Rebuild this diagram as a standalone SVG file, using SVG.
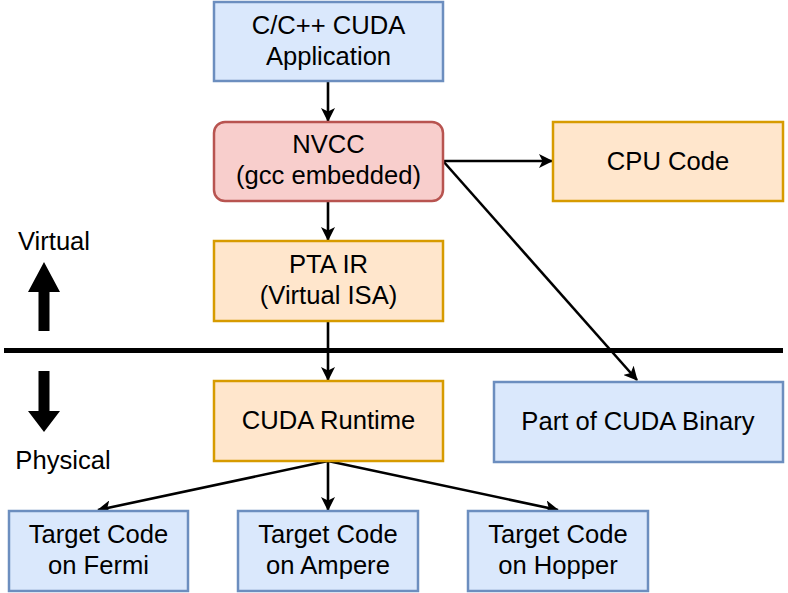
<svg xmlns="http://www.w3.org/2000/svg" width="788" height="593" viewBox="0 0 788 593">
<style>
text{font-family:"Liberation Sans",Arial,Helvetica,sans-serif;font-size:25.6px;fill:#000;text-anchor:middle}
.blue{fill:#dae8fc;stroke:#6c8ebf;stroke-width:2.5}
.red{fill:#f8cecc;stroke:#b85450;stroke-width:2.5}
.orange{fill:#ffe6cc;stroke:#d79b00;stroke-width:2.5}
.edge{stroke:#000;stroke-width:2.6;fill:none;marker-end:url(#ah)}
</style>
<defs>
<marker id="ah" viewBox="0 0 14 14" refX="13" refY="7" markerWidth="14" markerHeight="14" markerUnits="userSpaceOnUse" orient="auto">
<path d="M0,0 L14,7 L0,14 L3.5,7 Z" fill="#000"/>
</marker>
</defs>
<rect width="788" height="593" fill="#fff"/>
<g id="divider">
<line x1="4" y1="350.5" x2="783" y2="350.5" stroke="#000" stroke-width="5"/>
<path d="M44,262 L60,292 L49.5,292 L49.5,331 L38.5,331 L38.5,292 L28,292 Z" fill="#000"/>
<path d="M44,432 L60,411 L49.5,411 L49.5,371 L38.5,371 L38.5,411 L28,411 Z" fill="#000"/>
<text x="54" y="250">Virtual</text>
<text x="63" y="469">Physical</text>
</g>
<g id="connectors">
<line class="edge" x1="328" y1="81" x2="328" y2="121"/>
<line class="edge" x1="328" y1="202" x2="328" y2="240"/>
<line class="edge" x1="328" y1="321" x2="328" y2="380"/>
<line class="edge" x1="443" y1="161" x2="552" y2="161"/>
<line class="edge" x1="443" y1="161" x2="637" y2="380"/>
<line class="edge" x1="328" y1="461" x2="98" y2="510"/>
<line class="edge" x1="328" y1="461" x2="328" y2="510"/>
<line class="edge" x1="328" y1="461" x2="558" y2="510"/>
</g>
<g id="app">
<rect class="blue" x="214" y="2" width="229" height="79"/>
<text x="328.5" y="34">C/C++ CUDA</text>
<text x="328.5" y="65">Application</text>
</g>
<g id="nvcc">
<rect class="red" x="214" y="122" width="229" height="79" rx="11"/>
<text x="328.5" y="153">NVCC</text>
<text x="328.5" y="184">(gcc embedded)</text>
</g>
<g id="cpu">
<rect class="orange" x="553" y="122" width="230" height="79"/>
<text x="668" y="170">CPU Code</text>
</g>
<g id="ptx">
<rect class="orange" x="214" y="241" width="229" height="80"/>
<text x="328.5" y="273">PTA IR</text>
<text x="328.5" y="304">(Virtual ISA)</text>
</g>
<g id="runtime">
<rect class="orange" x="214" y="381" width="229" height="80"/>
<text x="328.5" y="429">CUDA Runtime</text>
</g>
<g id="binary">
<rect class="blue" x="494" y="382" width="289" height="80"/>
<text x="638" y="430">Part of CUDA Binary</text>
</g>
<g id="fermi">
<rect class="blue" x="9" y="511" width="179" height="80"/>
<text x="98.5" y="543">Target Code</text>
<text x="98.5" y="574">on Fermi</text>
</g>
<g id="ampere">
<rect class="blue" x="238" y="511" width="180" height="80"/>
<text x="328" y="543">Target Code</text>
<text x="328" y="574">on Ampere</text>
</g>
<g id="hopper">
<rect class="blue" x="468" y="511" width="180" height="80"/>
<text x="558" y="543">Target Code</text>
<text x="558" y="574">on Hopper</text>
</g>
</svg>
